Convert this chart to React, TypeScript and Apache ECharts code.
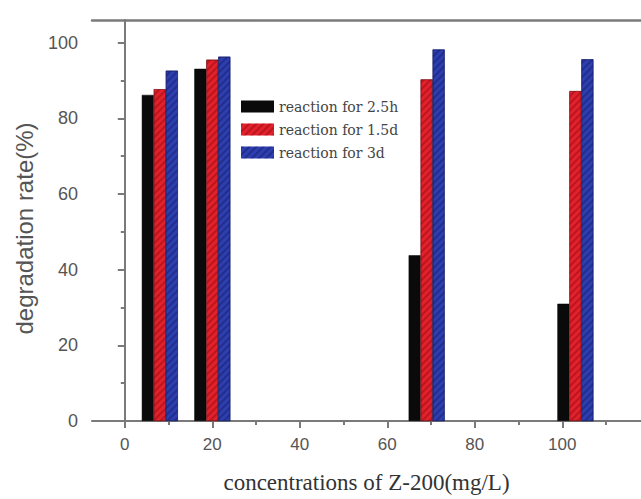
import React, { useEffect, useRef } from "react";
import * as echarts from "echarts";

// Data
const concentrations = [8, 20, 69, 103]; // mg/L (group centres)
const seriesNames = ["reaction for 2.5h", "reaction for 1.5d", "reaction for 3d"];
const rate25h = [86.2, 93.1, 43.8, 31.0];
const rate15d = [87.7, 95.5, 90.3, 87.2];
const rate3d = [92.6, 96.3, 98.2, 95.6];
const xMajorTicks = [0, 20, 40, 60, 80, 100];
const xMinorTicks = [10, 30, 50, 70, 90, 110];
const yMajorTicks = [0, 20, 40, 60, 80, 100];
const yMinorTicks = [10, 30, 50, 70, 90];

const X_MIN = -7.5;
const X_MAX = 118;
const Y_MIN = 0;
const Y_MAX = 106;

const AXIS_COLOR = "#7a7a7a";
const LABEL_COLOR = "#555";

export default function App() {
  const ref = useRef<HTMLDivElement>(null);

  useEffect(() => {
    if (!ref.current) return;
    const chart = echarts.init(ref.current, undefined, { renderer: "svg" });

    const toPairs = (vals: number[]) => concentrations.map((c, i) => [c, vals[i]]);

    const hatch = (color: string) => ({
      symbol: "rect",
      symbolSize: 1,
      dashArrayX: [1, 0],
      dashArrayY: [2, 3],
      rotation: -Math.PI / 4,
      color,
    });

    const option: any = {
      animation: false,
      backgroundColor: "#fff",
      grid: { left: 92, right: 0, top: 20, bottom: 71, containLabel: false },
      legend: {
        data: seriesNames,
        orient: "vertical",
        left: 241,
        top: 99,
        itemWidth: 33,
        itemHeight: 12,
        itemGap: 8,
        icon: "rect",
        padding: 0,
        itemStyle: { borderWidth: 0 },
        textStyle: {
          fontFamily: "DejaVu Serif",
          fontSize: 14,
          color: "#444",
          lineHeight: 15,
        },
      },
      xAxis: [
        {
          type: "value",
          min: X_MIN,
          max: X_MAX,
          position: "bottom",
          axisLine: { show: true, lineStyle: { color: AXIS_COLOR, width: 2 } },
          axisTick: {
            show: true,
            customValues: xMajorTicks,
            length: 7,
            lineStyle: { color: AXIS_COLOR, width: 2 },
          },
          axisLabel: {
            customValues: xMajorTicks,
            fontFamily: "Liberation Sans",
            fontSize: 17,
            color: LABEL_COLOR,
            margin: 15,
          },
          splitLine: { show: false },
          name: "concentrations of Z-200(mg/L)",
          nameLocation: "middle",
          nameGap: 50,
          nameTextStyle: {
            fontFamily: "Liberation Serif",
            fontSize: 23,
            color: "#333",
          },
        },
        {
          type: "value",
          min: X_MIN,
          max: X_MAX,
          position: "bottom",
          axisLine: { show: false },
          axisTick: {
            show: true,
            customValues: xMinorTicks,
            length: 4,
            lineStyle: { color: AXIS_COLOR, width: 2 },
          },
          axisLabel: { show: false },
          splitLine: { show: false },
        },
        {
          type: "value",
          min: X_MIN,
          max: X_MAX,
          position: "top",
          axisLine: { show: true, lineStyle: { color: AXIS_COLOR, width: 2.5 } },
          axisTick: { show: false },
          axisLabel: { show: false },
          splitLine: { show: false },
        },
      ],
      yAxis: [
        {
          type: "value",
          min: Y_MIN,
          max: Y_MAX,
          position: "left",
          axisLine: { show: true, lineStyle: { color: AXIS_COLOR, width: 2 } },
          axisTick: {
            show: true,
            customValues: yMajorTicks,
            length: 7,
            lineStyle: { color: AXIS_COLOR, width: 2 },
          },
          axisLabel: {
            customValues: yMajorTicks,
            fontFamily: "Liberation Sans",
            fontSize: 18,
            color: LABEL_COLOR,
            margin: 14,
          },
          splitLine: { show: false },
          name: "degradation rate(%)",
          nameLocation: "middle",
          nameGap: 56,
          nameTextStyle: {
            fontFamily: "Liberation Sans",
            fontSize: 24,
            color: "#555",
            padding: [0, 16, 0, 0],
          },
        },
        {
          type: "value",
          min: Y_MIN,
          max: Y_MAX,
          position: "left",
          axisLine: { show: false },
          axisTick: {
            show: true,
            customValues: yMinorTicks,
            length: 4,
            lineStyle: { color: AXIS_COLOR, width: 2 },
          },
          axisLabel: { show: false },
          splitLine: { show: false },
        },
      ],
      series: [
        {
          name: seriesNames[0],
          type: "bar",
          xAxisIndex: 0,
          yAxisIndex: 0,
          barWidth: 12,
          barGap: "0%",
          data: toPairs(rate25h),
          itemStyle: { color: "#0a0a0a", borderColor: "#000", borderWidth: 0.5 },
        },
        {
          name: seriesNames[1],
          type: "bar",
          xAxisIndex: 0,
          yAxisIndex: 0,
          barWidth: 12,
          barGap: "0%",
          data: toPairs(rate15d),
          itemStyle: {
            color: "#e3212b",
            borderColor: "#7a1015",
            borderWidth: 0.5,
            decal: hatch("rgba(110,0,10,0.35)"),
          },
        },
        {
          name: seriesNames[2],
          type: "bar",
          xAxisIndex: 0,
          yAxisIndex: 0,
          barWidth: 12,
          barGap: "0%",
          data: toPairs(rate3d),
          itemStyle: {
            color: "#2d3fb0",
            borderColor: "#141f66",
            borderWidth: 0.5,
            decal: hatch("rgba(10,15,70,0.35)"),
          },
        },
      ],
    };

    chart.setOption(option);
    return () => chart.dispose();
  }, []);

  return (
    <div
      ref={ref}
      style={{ position: "fixed", left: 0, top: 0, width: 641, height: 499, background: "#fff" }}
    />
  );
}
